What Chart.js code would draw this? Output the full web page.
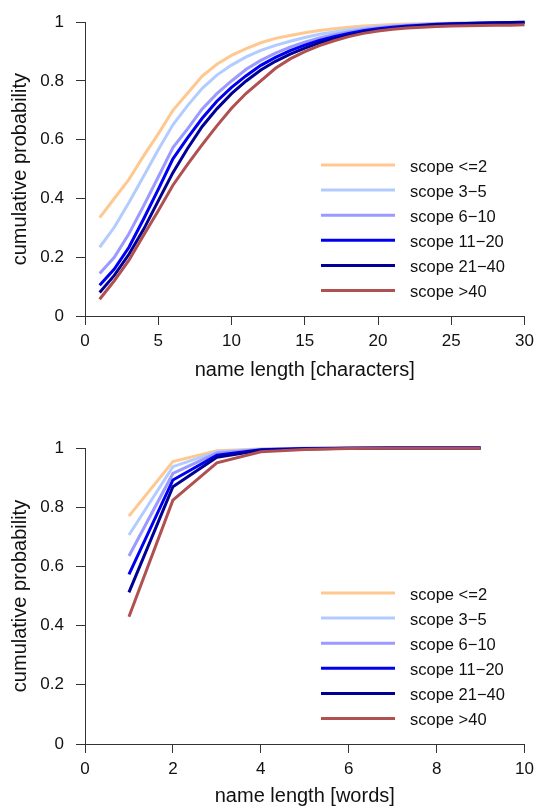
<!DOCTYPE html>
<html>
<head>
<meta charset="utf-8">
<title>Name length by scope</title>
<script src="https://cdn.jsdelivr.net/npm/chart.js@4.4.1/dist/chart.umd.min.js"></script>
<style>
  html, body { margin: 0; padding: 0; background: #ffffff; }
  canvas { display: block; }
</style>
</head>
<body>
<canvas id="charsChart" width="540" height="403"></canvas>
<canvas id="wordsChart" width="540" height="403"></canvas>
<script>
// legend entries
const scopeLabels = ['scope <=2', 'scope 3\u22125', 'scope 6\u221210', 'scope 11\u221220', 'scope 21\u221240', 'scope >40'];
const scopeColors = ['#FFC890', '#B3CCFF', '#9A9AFF', '#0000F0', '#000096', '#B05050'];

// name length in characters (top plot)
const charLengths = [1, 2, 3, 4, 5, 6, 7, 8, 9, 10, 11, 12, 13, 14, 15, 16, 17, 18, 19, 20, 21, 22, 23, 24, 25, 26, 27, 28, 29, 30];
const charScopeLe2 = [0.335, 0.40, 0.465, 0.545, 0.62, 0.70, 0.758, 0.817, 0.857, 0.887, 0.910, 0.930, 0.945, 0.955, 0.964, 0.972, 0.978, 0.983, 0.987, 0.990, 0.992, 0.994, 0.995, 0.996, 0.997, 0.998, 0.998, 0.999, 0.999, 1.0];
const charScope3to5 = [0.234, 0.302, 0.386, 0.476, 0.566, 0.651, 0.716, 0.775, 0.820, 0.854, 0.882, 0.904, 0.921, 0.935, 0.948, 0.959, 0.967, 0.974, 0.980, 0.985, 0.988, 0.991, 0.993, 0.995, 0.996, 0.997, 0.998, 0.999, 0.999, 1.0];
const charScope6to10 = [0.145, 0.200, 0.280, 0.375, 0.473, 0.573, 0.637, 0.705, 0.757, 0.800, 0.840, 0.870, 0.895, 0.915, 0.932, 0.946, 0.957, 0.967, 0.975, 0.981, 0.986, 0.989, 0.992, 0.994, 0.995, 0.996, 0.997, 0.998, 0.999, 1.0];
const charScope11to20 = [0.105, 0.160, 0.234, 0.330, 0.431, 0.535, 0.606, 0.673, 0.731, 0.778, 0.818, 0.853, 0.880, 0.903, 0.922, 0.938, 0.951, 0.962, 0.971, 0.978, 0.983, 0.987, 0.990, 0.993, 0.995, 0.996, 0.997, 0.998, 0.999, 1.0];
const charScope21to40 = [0.080, 0.138, 0.210, 0.295, 0.392, 0.488, 0.570, 0.645, 0.705, 0.757, 0.800, 0.837, 0.867, 0.891, 0.912, 0.930, 0.944, 0.956, 0.966, 0.973, 0.979, 0.984, 0.988, 0.991, 0.993, 0.995, 0.996, 0.997, 0.998, 0.999];
const charScopeGt40 = [0.057, 0.120, 0.190, 0.275, 0.358, 0.445, 0.516, 0.583, 0.647, 0.707, 0.758, 0.800, 0.843, 0.875, 0.900, 0.920, 0.937, 0.951, 0.962, 0.970, 0.976, 0.980, 0.983, 0.985, 0.987, 0.988, 0.989, 0.990, 0.990, 0.991];

// name length in words (bottom plot)
const wordLengths = [1, 2, 3, 4, 5, 6, 7, 8, 9];
const wordScopeLe2 = [0.770, 0.954, 0.991, 0.997, 0.999, 1.0, 1.0, 1.0, 1.0];
const wordScope3to5 = [0.706, 0.937, 0.987, 0.996, 0.999, 1.0, 1.0, 1.0, 1.0];
const wordScope6to10 = [0.635, 0.914, 0.983, 0.995, 0.998, 0.999, 1.0, 1.0, 1.0];
const wordScope11to20 = [0.573, 0.892, 0.976, 0.994, 0.998, 0.999, 1.0, 1.0, 1.0];
const wordScope21to40 = [0.512, 0.869, 0.969, 0.992, 0.997, 0.999, 1.0, 1.0, 1.0];
const wordScopeGt40 = [0.430, 0.824, 0.950, 0.987, 0.995, 0.998, 0.999, 0.999, 0.999];

const yTicks = [0, 0.2, 0.4, 0.6, 0.8, 1];

const FONT = '"Liberation Sans", Arial, Helvetica, sans-serif';
const AXIS_COLOR = '#333333';

function toPoints(xs, ys) {
    return xs.map((x, i) => ({ x: x, y: ys[i] }));
}

function buildDatasets(xs, seriesList) {
    return seriesList.map((ys, i) => ({
        label: scopeLabels[i],
        data: toPoints(xs, ys),
        borderColor: scopeColors[i],
        backgroundColor: scopeColors[i],
        borderWidth: 3,
        pointRadius: 0,
        tension: 0,
        fill: false,
        clip: false,
        // last series ends up drawn on top, like the original plot
        order: seriesList.length - 1 - i
    }));
}

// R style legend sitting in the lower right of the plot
const insideLegend = {
    id: 'insideLegend',
    afterDatasetsDraw(chart) {
        const area = chart.chartArea;
        const ctx = chart.ctx;
        const n = scopeLabels.length;
        ctx.save();
        ctx.font = '16.5px ' + FONT;
        ctx.textBaseline = 'middle';
        ctx.textAlign = 'left';
        scopeLabels.forEach((label, i) => {
            const y = area.bottom - 25.5 - (n - 1 - i) * 25.1;
            ctx.strokeStyle = scopeColors[i];
            ctx.lineWidth = 3;
            ctx.beginPath();
            ctx.moveTo(area.left + 236, y);
            ctx.lineTo(area.left + 310, y);
            ctx.stroke();
            ctx.fillStyle = '#111111';
            ctx.fillText(label, area.left + 325, y + 2);
        });
        ctx.restore();
    }
};

function makeOptions(xMax, xStep, xTitle, xAxisHeight, titlePad) {
    return {
        responsive: false,
        animation: false,
        devicePixelRatio: 1,
        layout: { padding: { top: 20, right: 13, bottom: 0, left: 0 } },
        plugins: {
            legend: { display: false },
            tooltip: { enabled: false }
        },
        scales: {
            x: {
                type: 'linear',
                min: 0,
                max: xMax,
                grid: {
                    drawOnChartArea: false,
                    drawTicks: true,
                    tickLength: 9,
                    color: AXIS_COLOR,
                    tickColor: AXIS_COLOR
                },
                border: { display: true, color: AXIS_COLOR, width: 1 },
                ticks: {
                    stepSize: xStep,
                    padding: 6,
                    color: '#111111',
                    maxRotation: 0,
                    font: { family: FONT, size: 17 }
                },
                title: {
                    display: true,
                    text: xTitle,
                    color: '#111111',
                    font: { family: FONT, size: 20, lineHeight: 1 },
                    padding: { top: 0, bottom: titlePad }
                },
                afterFit: function(scale) {
                    scale.height = xAxisHeight;
                }
            },
            y: {
                type: 'linear',
                min: 0,
                max: 1,
                grid: {
                    drawOnChartArea: false,
                    drawTicks: true,
                    tickLength: 9,
                    color: AXIS_COLOR,
                    tickColor: AXIS_COLOR
                },
                border: { display: true, color: AXIS_COLOR, width: 1 },
                afterBuildTicks: function(scale) {
                    scale.ticks = yTicks.map(v => ({ value: v }));
                },
                ticks: {
                    padding: 12,
                    color: '#111111',
                    font: { family: FONT, size: 17 },
                    callback: function(value) {
                        return (value === 0 || value === 1) ? String(value) : value.toFixed(1);
                    }
                },
                title: {
                    display: true,
                    text: 'cumulative probability',
                    color: '#111111',
                    font: { family: FONT, size: 20, lineHeight: 1 },
                    padding: { top: 10, bottom: 0 }
                },
                afterFit: function(scale) {
                    scale.width = 85;
                }
            }
        }
    };
}

function initCharts() {
    if (typeof Chart === 'undefined') {
        console.error('Chart.js is not loaded!');
        return;
    }

    const charsCanvas = document.getElementById('charsChart');
    new Chart(charsCanvas.getContext('2d'), {
        type: 'line',
        data: {
            datasets: buildDatasets(charLengths, [charScopeLe2, charScope3to5, charScope6to10, charScope11to20, charScope21to40, charScopeGt40])
        },
        options: makeOptions(30, 5, 'name length [characters]', 87, 23),
        plugins: [insideLegend]
    });

    const wordsCanvas = document.getElementById('wordsChart');
    new Chart(wordsCanvas.getContext('2d'), {
        type: 'line',
        data: {
            datasets: buildDatasets(wordLengths, [wordScopeLe2, wordScope3to5, wordScope6to10, wordScope11to20, wordScope21to40, wordScopeGt40])
        },
        options: (function() {
            const opts = makeOptions(10, 2, 'name length [words]', 62, 0);
            opts.layout.padding.top = 45;
            return opts;
        })(),
        plugins: [insideLegend]
    });

    console.log('charts done');
}

document.addEventListener('DOMContentLoaded', initCharts);
</script>
</body>
</html>
